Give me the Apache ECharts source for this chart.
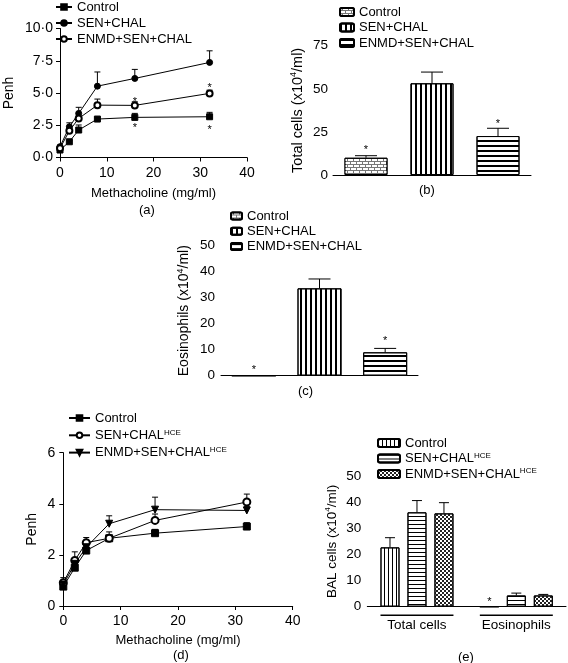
<!DOCTYPE html>
<html><head><meta charset="utf-8">
<script src="https://cdn.jsdelivr.net/npm/echarts@6/dist/echarts.min.js"></script>
<style>html,body{margin:0;padding:0;background:#fff}#c{width:568px;height:663px}</style>
</head><body><div id="c"></div><script>
// ---------- Panel (a) ----------
const doseA = [0, 2, 4, 8, 16, 32];
const ctrlA = [0.58, 1.22, 2.13, 2.98, 3.11, 3.16];
const ctrlErrA = [0.1, 0.08, 0.39, 0.1, 0.31, 0.34];
const senA = [0.84, 2.38, 3.42, 5.53, 6.13, 7.37];
const senErrA = [0.1, 0.31, 0.47, 1.1, 0.7, 0.9];
const enmdA = [0.71, 2.07, 3.03, 4.06, 4.04, 4.97];
const enmdErrA = [0.1, 0.15, 0.2, 0.47, 0.28, 0.25];
const starsA = [[16, 2.5], [32, 2.38], [16, 4.5], [32, 5.61]];
const yTicksA = ['0·0', '2·5', '5·0', '7·5', '10·0'];
// ---------- Panel (b) ----------
const groupsBC = ['Control', 'SEN+CHAL', 'ENMD+SEN+CHAL'];
const totalB = [10.0, 53.2, 22.6];
const totalErrB = [1.2, 6.5, 4.5];
const starsB = [[0, 16.1], [2, 31.3]];
// ---------- Panel (c) ----------
const eosC = [0, 33.6, 9.0];
const eosErrC = [0, 3.6, 1.5];
const starsC = [[0, 3.5], [2, 14.4]];
// ---------- Panel (d) ----------
const doseD = [0, 2, 4, 8, 16, 32];
const ctrlD = [0.76, 1.5, 2.17, 2.65, 2.85, 3.11];
const ctrlErrD = [0.05, 0.1, 0.1, 0.25, 0.15, 0.15];
const senD = [0.91, 1.78, 2.48, 2.65, 3.35, 4.07];
const senErrD = [0.2, 0.34, 0.2, 0.1, 0.25, 0.31];
const enmdD = [0.84, 1.65, 2.3, 3.22, 3.77, 3.74];
const enmdErrD = [0.15, 0.2, 0.1, 0.31, 0.49, 0.15];
// ---------- Panel (e) ----------
const catsE = ['Total cells', 'Eosinophils'];
const ctrlE = [22.7, 0];
const ctrlErrE = [3.7, 0];
const senE = [36.1, 4.3];
const senErrE = [4.5, 0.9];
const enmdE = [35.7, 4.3];
const enmdErrE = [4.1, 0.4];
const starsE = [[1, 2.9, 0]]; // [category, value, bar index]

const FONT = 'Liberation Sans, Arial, Helvetica, sans-serif';
const BLK = '#000';
const chart = echarts.init(document.getElementById('c'));

function nameStyle(fs) {
  return { color: BLK, fontFamily: FONT, fontSize: fs, lineHeight: fs + 3,
    rich: { sup: { fontSize: Math.round(fs * 0.62), lineHeight: Math.round(fs * 0.7), verticalAlign: 'top', fontFamily: FONT, color: BLK } } };
}
const axisBase = {
  axisLine: { lineStyle: { color: BLK, width: 1 } },
  axisTick: { length: 4, lineStyle: { color: BLK, width: 1 } },
  axisLabel: { color: BLK, fontFamily: FONT, fontSize: 13, margin: 6 },
  splitLine: { show: false },
  nameLocation: 'middle'
};
function ax(o) {
  const base = JSON.parse(JSON.stringify(axisBase));
  base.nameTextStyle = nameStyle(o.nameFs || 13);
  delete o.nameFs;
  return Object.assign(base, o);
}

const legendText = { color: BLK, fontFamily: FONT, fontSize: 13, lineHeight: 14,
  rich: { sup: { fontSize: 8, lineHeight: 8, verticalAlign: 'top', fontFamily: FONT, color: BLK } } };
const legFmt = n => n.split('|')[0].replace('^HCE', '{sup|HCE}');

// error bar renderer
function errSeries(name, xi, yi, data, offset, capHalf) {
  return {
    type: 'custom', name: name, xAxisIndex: xi, yAxisIndex: yi, z: 1, clip: false, silent: true,
    data: data,
    renderItem: function (params, api) {
      const x = api.value(0), y = api.value(1), e = api.value(2);
      if (!e) return null;
      const p0 = api.coord([x, y]), p1 = api.coord([x, y + e]);
      const cx = p0[0] + offset;
      return { type: 'group', children: [
        { type: 'line', shape: { x1: cx, y1: p0[1], x2: cx, y2: p1[1] }, style: { stroke: BLK, lineWidth: 1 } },
        { type: 'line', shape: { x1: cx - capHalf, y1: p1[1], x2: cx + capHalf, y2: p1[1] }, style: { stroke: BLK, lineWidth: 1 } }
      ] };
    }
  };
}
function starSeries(name, xi, yi, data, offsets) {
  return {
    type: 'custom', name: name, xAxisIndex: xi, yAxisIndex: yi, z: 5, clip: false, silent: true,
    data: data,
    renderItem: function (params, api) {
      const p = api.coord([api.value(0), api.value(1)]);
      const off = offsets ? offsets[api.value(2)] : 0;
      return { type: 'text', x: p[0] + off, y: p[1] + 3,
        style: { text: '*', fontSize: 11, fontFamily: FONT, fill: BLK, align: 'center', verticalAlign: 'middle' } };
    }
  };
}
const zip = (xs, ys, es) => xs.map((x, i) => [x, ys[i], es[i]]);
const lineSer = (name, xi, yi, xs, ys, sym, size, rot) => ({
  type: 'line', name: name, xAxisIndex: xi, yAxisIndex: yi, z: 3,
  data: xs.map((x, i) => [x, ys[i]]),
  symbol: sym, symbolSize: size, symbolRotate: rot || 0,
  lineStyle: { color: BLK, width: 1 }, itemStyle: { color: BLK, borderColor: BLK, borderWidth: 1 }
});

// decal patterns
const decBrick = { symbol: 'rect', symbolSize: 1, color: '#fff', dashArrayX: [[5, 1], [2, 1, 3, 0]], dashArrayY: [2, 1] };
const decVert = { symbol: 'rect', symbolSize: 1, color: BLK, dashArrayX: [2, 2.4], dashArrayY: [1, 0] };
const decHorz = { symbol: 'rect', symbolSize: 1, color: BLK, dashArrayX: [1, 0], dashArrayY: [2, 2.5] };
const decVertThin = { symbol: 'rect', symbolSize: 1, color: BLK, dashArrayX: [1, 2.2], dashArrayY: [1, 0] };
const decHorzThin = { symbol: 'rect', symbolSize: 1, color: BLK, dashArrayX: [1, 0], dashArrayY: [1, 2.5] };
const decCheck = { symbol: 'rect', symbolSize: 1, color: '#222', dashArrayX: [[2, 2], [0, 2, 2, 0]], dashArrayY: [2, 0] };

function barSer(name, xi, yi, vals, idx, fill, decal, bw) {
  return {
    type: 'bar', name: name, xAxisIndex: xi, yAxisIndex: yi, barWidth: bw, barGap: '-100%', z: 2,
    data: vals.map((v, i) => (idx === null || i === idx) ? v : '-'),
    itemStyle: { color: fill, borderColor: BLK, borderWidth: 1, decal: decal }
  };
}

const BW_E = 19, GAP_E = 0.42, STEP_E = BW_E * (1 + GAP_E);
const offsE = [-STEP_E, 0, STEP_E];

const option = {
  animation: false,
  backgroundColor: '#fff',
  textStyle: { fontFamily: FONT },
  grid: [
    { left: 52, top: 28.5, width: 195, height: 129 },
    { left: 333, top: 45.7, width: 198, height: 129.3 },
    { left: 221, top: 245.7, width: 197, height: 130 },
    { left: 63.3, top: 452.7, width: 229.4, height: 153.3 },
    { left: 367.3, top: 476, width: 198.7, height: 130.7 }
  ],
  xAxis: [
    ax({ gridIndex: 0, type: 'value', min: 0, max: 40, interval: 10, name: 'Methacholine (mg/ml)', nameGap: 28,
      axisLabel: { color: BLK, fontFamily: FONT, fontSize: 14, margin: 9 } }),
    ax({ gridIndex: 1, type: 'category', data: groupsBC, axisTick: { show: false }, axisLabel: { show: false } }),
    ax({ gridIndex: 2, type: 'category', data: groupsBC, axisTick: { show: false }, axisLabel: { show: false } }),
    ax({ gridIndex: 3, type: 'value', min: 0, max: 40, interval: 10, name: 'Methacholine (mg/ml)', nameGap: 26,
      axisLabel: { color: BLK, fontFamily: FONT, fontSize: 14, margin: 8 } }),
    ax({ gridIndex: 4, type: 'category', data: catsE, axisTick: { show: false },
      axisLabel: { color: BLK, fontFamily: FONT, fontSize: 13.5, margin: 12 } })
  ],
  yAxis: [
    ax({ gridIndex: 0, type: 'value', min: 0, max: 10, interval: 2.5, name: 'Penh', nameGap: 42, nameFs: 14,
      axisLabel: { color: BLK, fontFamily: FONT, fontSize: 14, margin: 7, formatter: (v, i) => yTicksA[i] } }),
    ax({ gridIndex: 1, type: 'value', min: 0, max: 75, interval: 25, name: 'Total cells (x10{sup|4}/ml)', nameGap: 26, nameFs: 14.5,
      axisLabel: { color: BLK, fontFamily: FONT, fontSize: 13.5, margin: 5 } }),
    ax({ gridIndex: 2, type: 'value', min: 0, max: 50, interval: 10, name: 'Eosinophils (x10{sup|4}/ml)', nameGap: 28, nameFs: 14,
      axisLabel: { color: BLK, fontFamily: FONT, fontSize: 13.5, margin: 6 } }),
    ax({ gridIndex: 3, type: 'value', min: 0, max: 6, interval: 2, name: 'Penh', nameGap: 23, nameFs: 14,
      axisLabel: { color: BLK, fontFamily: FONT, fontSize: 14, margin: 8 } }),
    ax({ gridIndex: 4, type: 'value', min: 0, max: 50, interval: 10, name: 'BAL cells (x10{sup|4}/ml)', nameGap: 27, nameFs: 13.5,
      axisLabel: { color: BLK, fontFamily: FONT, fontSize: 13.5, margin: 6 } })
  ],
  legend: [
    { orient: 'vertical', left: 55, top: 0, padding: 0, itemGap: 2, itemWidth: 16, itemHeight: 7,
      textStyle: legendText, formatter: legFmt, selectedMode: false,
      data: ['Control|a', 'SEN+CHAL|a', 'ENMD+SEN+CHAL|a'] },
    { orient: 'vertical', left: 339, top: 5, padding: 0, itemGap: 1.5, itemWidth: 14, itemHeight: 8,
      textStyle: legendText, formatter: legFmt, selectedMode: false,
      data: ['Control|b', 'SEN+CHAL|b', 'ENMD+SEN+CHAL|b'] },
    { orient: 'vertical', left: 230, top: 209, padding: 0, itemGap: 1.3, itemWidth: 11, itemHeight: 7,
      textStyle: legendText, formatter: legFmt, selectedMode: false,
      data: ['Control|c', 'SEN+CHAL|c', 'ENMD+SEN+CHAL|c'] },
    { orient: 'vertical', left: 68, top: 411, padding: 0, itemGap: 3.3, itemWidth: 21, itemHeight: 7,
      textStyle: legendText, formatter: legFmt, selectedMode: false,
      data: ['Control|d', 'SEN+CHAL^HCE|d', 'ENMD+SEN+CHAL^HCE|d'] },
    { orient: 'vertical', left: 377, top: 436, padding: 0, itemGap: 1.5, itemWidth: 22, itemHeight: 8,
      textStyle: legendText, formatter: legFmt, selectedMode: false,
      data: ['Control|e', 'SEN+CHAL^HCE|e', 'ENMD+SEN+CHAL^HCE|e'] }
  ],
  graphic: [
    { type: 'text', left: 139, top: 204, style: { text: '(a)', font: '13px ' + FONT, fill: BLK } },
    { type: 'text', left: 419, top: 184, style: { text: '(b)', font: '13px ' + FONT, fill: BLK } },
    { type: 'text', left: 298, top: 385, style: { text: '(c)', font: '13px ' + FONT, fill: BLK } },
    { type: 'text', left: 173, top: 649, style: { text: '(d)', font: '13px ' + FONT, fill: BLK } },
    { type: 'text', left: 458, top: 651, style: { text: '(e)', font: '13px ' + FONT, fill: BLK } }
  ],
  series: [
    // (a)
    errSeries('errCa', 0, 0, zip(doseA, ctrlA, ctrlErrA), 0, 3),
    errSeries('errSa', 0, 0, zip(doseA, senA, senErrA), 0, 3),
    errSeries('errEa', 0, 0, zip(doseA, enmdA, enmdErrA), 0, 3),
    lineSer('Control|a', 0, 0, doseA, ctrlA, 'rect', 6),
    lineSer('SEN+CHAL|a', 0, 0, doseA, senA, 'circle', 6),
    lineSer('ENMD+SEN+CHAL|a', 0, 0, doseA, enmdA, 'emptyCircle', 6),
    starSeries('starsA', 0, 0, starsA),
    // (b)
    barSer('Control|b', 1, 1, totalB, 0, '#777', decBrick, 43),
    barSer('SEN+CHAL|b', 1, 1, totalB, 1, '#fff', decVert, 43),
    barSer('ENMD+SEN+CHAL|b', 1, 1, totalB, 2, '#fff', decHorz, 43),
    errSeries('errB', 1, 1, zip([0, 1, 2], totalB, totalErrB), 0, 11),
    starSeries('starsB', 1, 1, starsB),
    // (c)
    barSer('Control|c', 2, 2, eosC, 0, '#777', decBrick, 44),
    barSer('SEN+CHAL|c', 2, 2, eosC, 1, '#fff', decVert, 44),
    barSer('ENMD+SEN+CHAL|c', 2, 2, eosC, 2, '#fff', decHorz, 44),
    errSeries('errC', 2, 2, zip([0, 1, 2], eosC, eosErrC), 0, 11),
    starSeries('starsC', 2, 2, starsC),
    // (d)
    errSeries('errCd', 3, 3, zip(doseD, ctrlD, ctrlErrD), 0, 3),
    errSeries('errSd', 3, 3, zip(doseD, senD, senErrD), 0, 3),
    errSeries('errEd', 3, 3, zip(doseD, enmdD, enmdErrD), 0, 3),
    lineSer('Control|d', 3, 3, doseD, ctrlD, 'rect', 7),
    lineSer('SEN+CHAL^HCE|d', 3, 3, doseD, senD, 'emptyCircle', 7),
    lineSer('ENMD+SEN+CHAL^HCE|d', 3, 3, doseD, enmdD, 'triangle', 7, 180),
    // (e)
    Object.assign(barSer('Control|e', 4, 4, ctrlE, null, '#fff', decVertThin, BW_E), { barGap: (GAP_E * 100) + '%' }),
    Object.assign(barSer('SEN+CHAL^HCE|e', 4, 4, senE, null, '#fff', decHorzThin, BW_E), { barGap: (GAP_E * 100) + '%' }),
    Object.assign(barSer('ENMD+SEN+CHAL^HCE|e', 4, 4, enmdE, null, '#fff', decCheck, BW_E), { barGap: (GAP_E * 100) + '%' }),
    errSeries('errCe', 4, 4, zip([0, 1], ctrlE, ctrlErrE), offsE[0], 5),
    errSeries('errSe', 4, 4, zip([0, 1], senE, senErrE), offsE[1], 5),
    errSeries('errEe', 4, 4, zip([0, 1], enmdE, enmdErrE), offsE[2], 5),
    starSeries('starsE', 4, 4, starsE, offsE),
    {
      type: 'custom', name: 'underline', xAxisIndex: 4, yAxisIndex: 4, clip: false, silent: true,
      data: catsE.map((c, i) => [i, 0]),
      renderItem: function (params, api) {
        const p = api.coord([api.value(0), 0]);
        const half = STEP_E + BW_E / 2;
        return { type: 'line', shape: { x1: p[0] - half, y1: p[1] + 8.5, x2: p[0] + half, y2: p[1] + 8.5 },
          style: { stroke: BLK, lineWidth: 1.5 } };
      }
    }
  ]
};
chart.setOption(option);
</script></body></html>
